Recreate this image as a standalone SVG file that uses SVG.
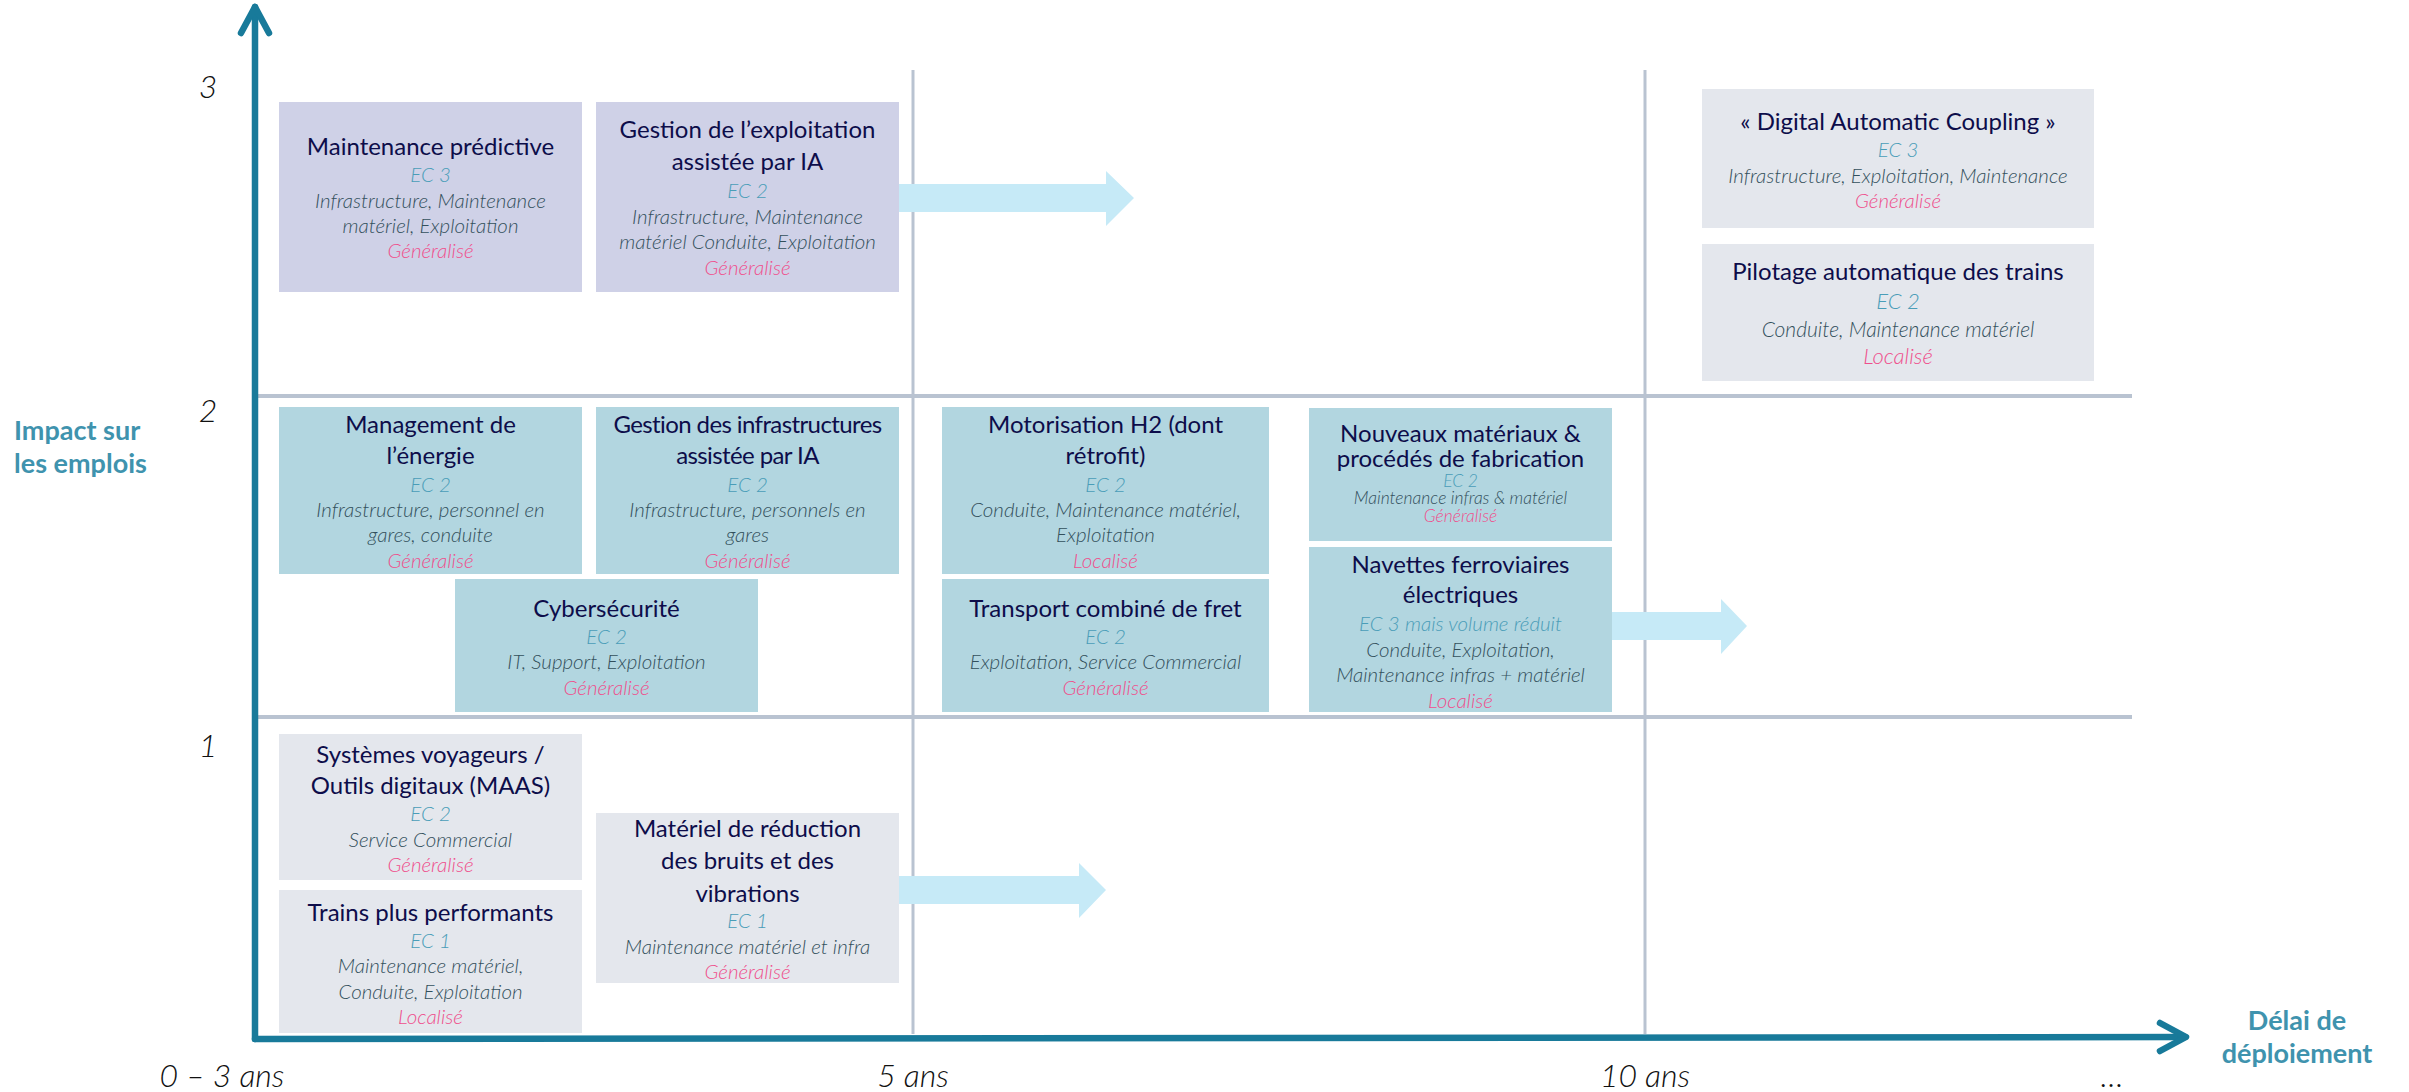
<svg xmlns="http://www.w3.org/2000/svg" width="2409" height="1092" viewBox="0 0 2409 1092">
<style>
text{font-family:Lato,"Liberation Sans",sans-serif;text-anchor:middle}
.t{font-size:24px;fill:#0d0d4a}
.ec{font-size:20.5px;font-style:italic;font-weight:300;fill:#4a9db8}
.d{font-size:20.5px;font-style:italic;font-weight:300;fill:#33505c}
.s{font-size:20.5px;font-style:italic;font-weight:300;fill:#ef4f8c}
.sm{font-size:17.5px}
.lg{font-size:22px}
.p{fill:#cfd1e7}.b{fill:#b2d6e0}.g{fill:#e4e7ed}
.ax{fill:none;stroke:#187a9a;stroke-width:6.5;stroke-linecap:round;stroke-linejoin:round}
.grid{stroke:#b9c3d1;fill:none}
.num{font-size:32px;font-style:italic;font-weight:300;fill:#111}
.at{font-size:27px;font-weight:bold;fill:#3f93ae}
.arr{fill:#c6eaf7}
</style>
<g id="grid">
<line class="grid" x1="913" y1="70" x2="913" y2="1034" stroke-width="3"/>
<line class="grid" x1="1645" y1="70" x2="1645" y2="1034" stroke-width="3"/>
<line class="grid" x1="255" y1="396" x2="2132" y2="396" stroke-width="4"/>
<line class="grid" x1="255" y1="717" x2="2132" y2="717" stroke-width="4"/>
</g>
<g id="connectors">
<polygon class="arr" points="899,184 1106,184 1106,171 1134,198 1106,226 1106,212 899,212"/>
<polygon class="arr" points="1612,612 1721,612 1721,599 1747,626 1721,654 1721,640 1612,640"/>
<polygon class="arr" points="899,876 1079,876 1079,863 1106,890 1079,918 1079,904 899,904"/>
</g>
<g id="axes">
<polyline class="ax" points="255,1039 255,7"/>
<polyline class="ax" points="241,33 255,7 269,33"/>
<polyline class="ax" points="255,1039 2185,1037"/>
<polyline class="ax" points="2160,1023 2186,1037 2160,1051"/>
<text class="num" x="208" y="98">3</text>
<text class="num" x="208" y="422">2</text>
<text class="num" x="208" y="757">1</text>
<text class="num" x="222" y="1087">0 – 3 ans</text>
<text class="num" x="913" y="1087">5 ans</text>
<text class="num" x="1645" y="1087">10 ans</text>
<text class="num" x="2112" y="1087">…</text>
<text class="at" x="14" y="440" style="text-anchor:start">Impact sur</text>
<text class="at" x="14" y="473" style="text-anchor:start">les emplois</text>
<text class="at" x="2297" y="1030">Délai de</text>
<text class="at" x="2297" y="1063">déploiement</text>
</g>
<g id="maintenance-predictive">
<rect class="p" x="279" y="102" width="303" height="190"/>
<text class="t" x="430.5" y="155">Maintenance prédictive</text>
<text class="ec" x="430.5" y="182">EC 3</text>
<text class="d" x="430.5" y="208">Infrastructure, Maintenance</text>
<text class="d" x="430.5" y="233">matériel, Exploitation</text>
<text class="s" x="430.5" y="258">Généralisé</text>
</g>
<g id="gestion-exploitation">
<rect class="p" x="596" y="102" width="303" height="190"/>
<text class="t" x="747.5" y="138">Gestion de l’exploitation</text>
<text class="t" x="747.5" y="170">assistée par IA</text>
<text class="ec" x="747.5" y="198">EC 2</text>
<text class="d" x="747.5" y="224">Infrastructure,  Maintenance</text>
<text class="d" x="747.5" y="249">matériel Conduite,  Exploitation</text>
<text class="s" x="747.5" y="275">Généralisé</text>
</g>
<g id="digital-automatic-coupling">
<rect class="g" x="1702" y="89" width="392" height="139"/>
<text class="t" x="1898" y="130">« Digital Automatic Coupling »</text>
<text class="ec" x="1898" y="157">EC 3</text>
<text class="d" x="1898" y="183">Infrastructure, Exploitation, Maintenance</text>
<text class="s" x="1898" y="208">Généralisé</text>
</g>
<g id="pilotage-automatique">
<rect class="g" x="1702" y="244" width="392" height="137"/>
<text class="t" x="1898" y="280">Pilotage automatique des trains</text>
<text class="ec lg" x="1898" y="309">EC 2</text>
<text class="d" x="1898" y="337" style="font-size:21px">Conduite, Maintenance matériel</text>
<text class="s lg" x="1898" y="364">Localisé</text>
</g>
<g id="management-energie">
<rect class="b" x="279" y="407" width="303" height="167"/>
<text class="t" x="430.5" y="433">Management de</text>
<text class="t" x="430.5" y="464">l’énergie</text>
<text class="ec" x="430.5" y="492">EC 2</text>
<text class="d" x="430.5" y="517">Infrastructure, personnel en</text>
<text class="d" x="430.5" y="542">gares,  conduite</text>
<text class="s" x="430.5" y="568">Généralisé</text>
</g>
<g id="gestion-infrastructures">
<rect class="b" x="596" y="407" width="303" height="167"/>
<text class="t" x="747.5" y="433" letter-spacing="-0.6">Gestion des infrastructures</text>
<text class="t" x="747.5" y="464" letter-spacing="-0.6">assistée par IA</text>
<text class="ec" x="747.5" y="492">EC 2</text>
<text class="d" x="747.5" y="517">Infrastructure, personnels en</text>
<text class="d" x="747.5" y="542">gares</text>
<text class="s" x="747.5" y="568">Généralisé</text>
</g>
<g id="cybersecurite">
<rect class="b" x="455" y="579" width="303" height="133"/>
<text class="t" x="606.5" y="617">Cybersécurité</text>
<text class="ec" x="606.5" y="644">EC 2</text>
<text class="d" x="606.5" y="669">IT, Support, Exploitation</text>
<text class="s" x="606.5" y="695">Généralisé</text>
</g>
<g id="motorisation-h2">
<rect class="b" x="942" y="407" width="327" height="167"/>
<text class="t" x="1105.5" y="433">Motorisation H2 (dont</text>
<text class="t" x="1105.5" y="464">rétrofit)</text>
<text class="ec" x="1105.5" y="492">EC 2</text>
<text class="d" x="1105.5" y="517">Conduite, Maintenance matériel,</text>
<text class="d" x="1105.5" y="542">Exploitation</text>
<text class="s" x="1105.5" y="568">Localisé</text>
</g>
<g id="transport-combine">
<rect class="b" x="942" y="579" width="327" height="133"/>
<text class="t" x="1105.5" y="617">Transport combiné de fret</text>
<text class="ec" x="1105.5" y="644">EC 2</text>
<text class="d" x="1105.5" y="669">Exploitation, Service Commercial</text>
<text class="s" x="1105.5" y="695">Généralisé</text>
</g>
<g id="nouveaux-materiaux">
<rect class="b" x="1309" y="408" width="303" height="133"/>
<text class="t" x="1460.5" y="442">Nouveaux matériaux &amp;</text>
<text class="t" x="1460.5" y="467">procédés de fabrication</text>
<text class="ec sm" x="1460.5" y="487">EC 2</text>
<text class="d sm" x="1460.5" y="504">Maintenance infras &amp; matériel</text>
<text class="s sm" x="1460.5" y="522">Généralisé</text>
</g>
<g id="navettes-ferroviaires">
<rect class="b" x="1309" y="547" width="303" height="165"/>
<text class="t" x="1460.5" y="573">Navettes ferroviaires</text>
<text class="t" x="1460.5" y="603">électriques</text>
<text class="ec" x="1460.5" y="631">EC 3 mais volume réduit</text>
<text class="d" x="1460.5" y="657">Conduite, Exploitation,</text>
<text class="d" x="1460.5" y="682">Maintenance infras + matériel</text>
<text class="s" x="1460.5" y="708">Localisé</text>
</g>
<g id="systemes-voyageurs">
<rect class="g" x="279" y="734" width="303" height="146"/>
<text class="t" x="430.5" y="763">Systèmes voyageurs /</text>
<text class="t" x="430.5" y="794">Outils digitaux (MAAS)</text>
<text class="ec" x="430.5" y="821">EC 2</text>
<text class="d" x="430.5" y="847">Service Commercial</text>
<text class="s" x="430.5" y="872">Généralisé</text>
</g>
<g id="trains-performants">
<rect class="g" x="279" y="890" width="303" height="143"/>
<text class="t" x="430.5" y="921">Trains plus performants</text>
<text class="ec" x="430.5" y="948">EC 1</text>
<text class="d" x="430.5" y="973">Maintenance matériel,</text>
<text class="d" x="430.5" y="999">Conduite, Exploitation</text>
<text class="s" x="430.5" y="1024">Localisé</text>
</g>
<g id="materiel-reduction-bruits">
<rect class="g" x="596" y="813" width="303" height="170"/>
<text class="t" x="747.5" y="837">Matériel de réduction</text>
<text class="t" x="747.5" y="869">des bruits et des</text>
<text class="t" x="747.5" y="902">vibrations</text>
<text class="ec" x="747.5" y="928">EC 1</text>
<text class="d" x="747.5" y="954">Maintenance matériel et infra</text>
<text class="s" x="747.5" y="979">Généralisé</text>
</g>
</svg>
